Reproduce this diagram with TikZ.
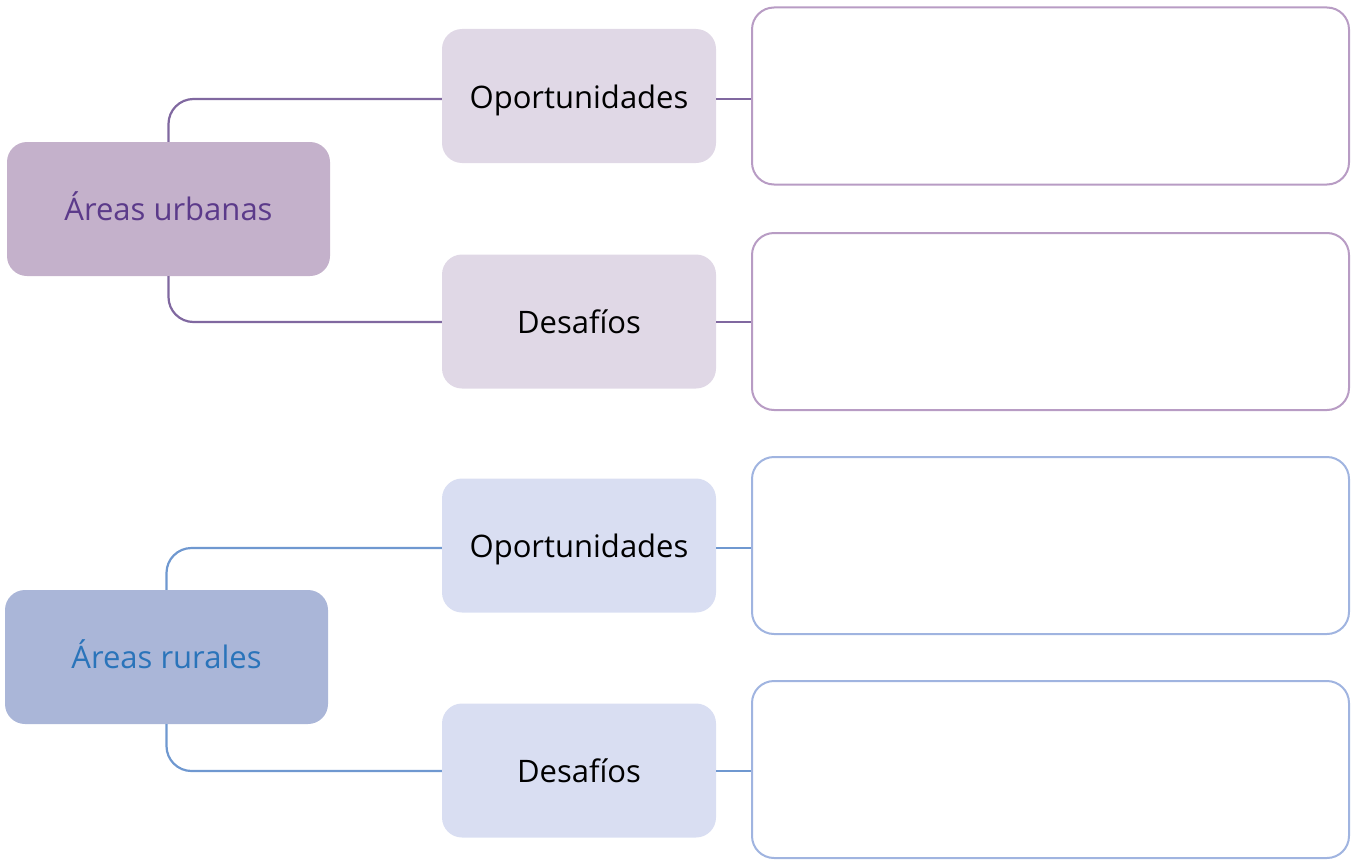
\documentclass[tikz,border=0pt]{standalone}
\usepackage{fontspec}
\setmainfont{Open Sans}
\definecolor{uroot}{HTML}{C4B1CB}
\definecolor{utext}{HTML}{5B3A8A}
\definecolor{umid}{HTML}{E0D8E6}
\definecolor{uline}{HTML}{8068A0}
\definecolor{ubox}{HTML}{B89CC4}
\definecolor{rroot}{HTML}{AAB6D8}
\definecolor{rtext}{HTML}{2A74BA}
\definecolor{rmid}{HTML}{D9DEF2}
\definecolor{rline}{HTML}{6F98D0}
\definecolor{rbox}{HTML}{A0B4E0}
\tikzset{
  rootbox/.style={rounded corners=20pt, minimum width=323pt, minimum height=134pt, inner sep=0pt, text height=27pt, text depth=5pt, font=\fontsize{31}{36}\selectfont},
  midbox/.style={rounded corners=20pt, minimum width=274pt, minimum height=134pt, inner sep=0pt, text=black, text height=30pt, text depth=5.4pt, font=\fontsize{31}{36}\selectfont},
  ansbox/.style={rounded corners=22pt, minimum width=597pt, minimum height=177pt, inner sep=0pt, fill=white, line width=2pt},
  conn/.style={line width=2.2pt, rounded corners=25pt},
  link/.style={line width=2.2pt},
}
\begin{document}
\begin{tikzpicture}[x=1pt,y=-1pt]
\useasboundingbox (0,0) rectangle (1354,859);
% urban
\node[rootbox, fill=uroot, text=utext] (ur) at (168.5,209) {Áreas urbanas};
\node[midbox, fill=umid] (uo) at (579,96) {Oportunidades};
\node[midbox, fill=umid] (ud) at (579,321.5) {Desafíos};
\node[ansbox, draw=ubox] (ua1) at (1050.5,96) {};
\node[ansbox, draw=ubox] (ua2) at (1050.5,321.5) {};
\coordinate (uoW) at ([yshift=-3pt]uo.west);
\coordinate (uoE) at ([yshift=-3pt]uo.east);
\coordinate (udW) at ([yshift=-0.5pt]ud.west);
\coordinate (udE) at ([yshift=-0.5pt]ud.east);
\draw[conn, uline] (ur.north) |- (uoW);
\draw[conn, uline] (ur.south) |- (udW);
\draw[link, uline] (uoE) -- (uoE -| ua1.west);
\draw[link, uline] (udE) -- (udE -| ua2.west);
% rural
\node[rootbox, fill=rroot, text=rtext] (rr) at (166.5,657) {Áreas rurales};
\node[midbox, fill=rmid] (ro) at (579,545.5) {Oportunidades};
\node[midbox, fill=rmid] (rd) at (579,770.5) {Desafíos};
\node[ansbox, draw=rbox] (ra1) at (1050.5,545.5) {};
\node[ansbox, draw=rbox] (ra2) at (1050.5,769.5) {};
\coordinate (roW) at ([yshift=-2.5pt]ro.west);
\coordinate (roE) at ([yshift=-2.5pt]ro.east);
\coordinate (rdW) at ([yshift=-0.5pt]rd.west);
\coordinate (rdE) at ([yshift=-0.5pt]rd.east);
\draw[conn, rline] (rr.north) |- (roW);
\draw[conn, rline] (rr.south) |- (rdW);
\draw[link, rline] (roE) -- (roE -| ra1.west);
\draw[link, rline] (rdE) -- (rdE -| ra2.west);
\end{tikzpicture}
\end{document}
